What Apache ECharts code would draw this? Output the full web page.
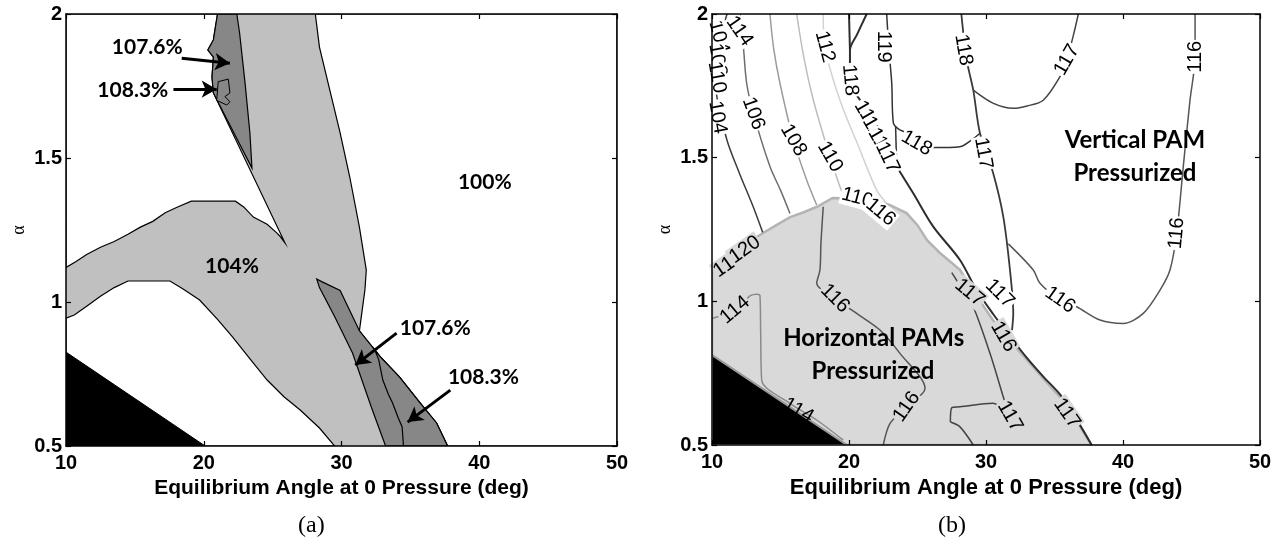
<!DOCTYPE html>
<html>
<head>
<meta charset="utf-8">
<script src="https://cdn.jsdelivr.net/npm/echarts@6/dist/echarts.min.js"></script>
<style>
  html, body { margin: 0; padding: 0; background: #fff; }
  #chart { width: 1281px; height: 540px; }
</style>
</head>
<body>
<div id="chart"></div>
<script>
// axes
var xTicks = [10, 20, 30, 40, 50];
var yTicks = [0.5, 1, 1.5, 2];

// ---------- panel (a): regions as [angle, alpha] ----------
var aUpperWhite = [[10,2],[21.0,2],[20.7,1.91],[20.3,1.875],[20.7,1.85],[20.6,1.78],[20.7,1.726],[25.9,1.205],[25.5,1.23],
  [25.3,1.24],[24.6,1.27],[23.6,1.295],[22.9,1.33],[22.3,1.35],[19.1,1.35],[18.1,1.33],[17.2,1.31],[16.3,1.28],[15.4,1.26],
  [14.5,1.235],[13.5,1.21],[12.5,1.19],[11.5,1.165],[10.7,1.14],[10,1.12]];
var aLowerWhite = [[10,0.5],[10,0.944],[10.6,0.955],[11.5,0.985],[12.5,1.02],[13.5,1.05],[14.5,1.073],[17.55,1.073],
  [18.5,1.045],[19.7,1.007],[21,0.94],[22.1,0.878],[23.4,0.8],[24.6,0.729],[25.8,0.672],[27.0,0.625],[28.4,0.5625],[29.5,0.5]];
var aRightWhite = [[28.1,2],[50,2],[50,0.5],[37.7,0.5],[36.9,0.58],[35.7,0.65],[34.2,0.74],[32.8,0.81],[31.3,0.9],
  [31.7,1.042],[31.8,1.111],[31.3,1.26],[30.6,1.434],[29.9,1.587],[29.2,1.726],[28.4,1.885]];
var aBandTop = [[21.0,2],[22.4,2],[22.6,1.935],[23.0,1.76],[23.35,1.587],[23.5,1.465],[20.7,1.726],[20.6,1.78],
  [20.7,1.85],[20.3,1.875],[20.7,1.91]];
var aBandTop83 = [[21.05,1.765],[21.78,1.774],[21.9,1.726],[21.54,1.713],[21.9,1.695],[21.67,1.684],[20.94,1.7]];
var aBandLow = [[28.2,1.08],[28.6,1.07],[29.9,1.04],[31.3,0.9],[32.8,0.81],[34.2,0.74],[35.7,0.65],[36.9,0.58],[37.7,0.5],
  [33.2,0.5],[32.2,0.63],[30.8,0.823],[29.5,0.95],[28.4,1.05]];
var aBandLow83 = [[32.4,0.835],[32.7,0.8],[33.0,0.729],[33.4,0.68],[33.7,0.65],[34.1,0.6],[34.4,0.566],[34.5,0.5],
  [37.7,0.5],[36.9,0.58],[35.7,0.65],[34.2,0.74],[32.8,0.81]];
var aBlack = [[10,0.5],[10,0.826],[20.1,0.5]];

var aText = [[15.9,1.885,'107.6%'],[14.85,1.736,'108.3%'],[40.4,1.417,'100%'],[22.05,1.125,'104%'],
  [36.8,0.91,'107.6%'],[40.3,0.74,'108.3%']];
var aArrows = [[[18.4,1.846],[21.9,1.829]], [[17.8,1.739],[20.94,1.739]], [[34.0,0.892],[31.0,0.781]], [[37.9,0.694],[34.8,0.583]]];

// ---------- panel (b) ----------
var bGray = [[10,1.12],[11.0,1.15],[12.0,1.18],[12.8,1.21],[13.7,1.237],[14.7,1.265],[15.7,1.293],[16.7,1.31],[17.7,1.33],
  [18.8,1.36],[21.75,1.355],[23.0,1.335],[24.2,1.307],[25.0,1.265],[25.7,1.213],[26.6,1.17],[28.1,1.11],[29.3,1.02],
  [30.5,0.935],[31.8,0.86],[33.0,0.796],[34.2,0.73],[35.4,0.667],[36.6,0.585],[37.7,0.5],[10,0.5]];
var bBlack = [[10,0.5],[10,0.813],[19.85,0.5]];

var c104 = [[11.1,2.0],[10.2,1.815],[10.36,1.711],[11.1,1.56],[12.0,1.446],[13.0,1.33],[13.7,1.24]];
var c106 = [[12.04,2.0],[12.3,1.88],[12.53,1.759],[13.02,1.654],[14.23,1.469],[15.0,1.387],[15.69,1.306]];
var c108 = [[14.23,2.0],[14.5,1.88],[14.96,1.759],[15.94,1.561],[16.91,1.422],[17.64,1.335]];
var c110 = [[16.18,2.0],[16.7,1.85],[17.4,1.7],[18.61,1.503],[19.34,1.399],[19.7,1.36]];
var c112 = [[18.12,2.0],[18.24,1.886],[19.34,1.7],[20.8,1.527],[22.02,1.387],[22.75,1.341]];
var c118 = [[21.29,2.0],[20.6,1.93],[20.07,1.875],[20.07,1.77],[21.29,1.666],[22.26,1.561],[23.48,1.469],[24.69,1.376],
  [26.15,1.26],[28.1,1.144],[29.3,1.04],[30.53,0.955],[31.8,0.875],[32.97,0.804],[34.2,0.737],[35.4,0.676],[36.6,0.59],[37.71,0.5]];
var c118b = [[20.0,2.0],[20.07,1.875]];
var c119 = [[22.75,2.0],[22.9,1.886],[23.12,1.759],[23.24,1.62],[23.6,1.6],[24.21,1.585],[24.94,1.55],[26.15,1.535],
  [28.1,1.538],[28.9,1.56],[29.56,1.585]];
var c119v = [[23.4,1.61],[23.48,1.469]];
var c118r = [[28.2,2.0],[28.59,1.84],[29.07,1.735],[29.56,1.585],[30.53,1.445],[31.26,1.295],[31.75,1.109],[31.99,0.958],[31.9,0.9]];
var c117top = [[29.07,1.735],[30.5,1.69],[31.99,1.672],[33.0,1.68],[34.18,1.7],[35.4,1.782],[35.89,1.84],[36.4,1.93],[36.74,2.0]];
var c116right = [[45.26,2.0],[45.26,1.851],[44.89,1.7],[44.4,1.469],[43.92,1.237],[43.43,1.109],[42.7,1.039],[41.48,0.958],
  [40.02,0.923],[38.32,0.935],[36.62,0.981],[35.4,1.005],[33.94,1.063],[33.45,1.109],[31.63,1.2]];
var c116gray = [[18.12,1.329],[17.95,1.2],[17.88,1.109],[17.64,1.063],[18.98,1.01],[20.56,0.958],[22.26,0.9],[23.72,0.819],
  [25.55,0.697],[24.21,0.633],[23.0,0.575],[22.5,0.5]];
var c114gray = [[10,0.94],[11.68,0.97],[12.8,1.02],[13.26,1.025],[13.5,1.02],[13.55,0.9],[13.63,0.726],[15.69,0.645],
  [17.64,0.587],[19.58,0.517]];
var c117gray = [[27.5,1.1],[28.3,1.04],[29.07,0.981],[30.29,0.819],[31.26,0.668],[31.7,0.6]];
var c117loop = [[27.4,0.58],[27.5,0.63],[28.1,0.633],[30.5,0.645],[31.3,0.62],[31.6,0.59]];
var c117low = [[27.4,0.58],[28.1,0.563],[29.07,0.5]];

var bLabelsWhite = [[10.4,1.64,'104'],[13.02,1.654,'106'],[15.94,1.561,'108'],[18.61,1.503,'110'],[18.24,1.886,'112'],
  [20.07,1.77,'118'],[22.5,1.886,'119'],[24.94,1.55,'118'],[21.3,1.645,'119'],[21.9,1.59,'114'],[22.3,1.55,'116'],
  [22.8,1.5,'117'],[28.35,1.875,'118'],[35.9,1.84,'117'],[29.8,1.515,'117'],[45.26,1.851,'116'],[43.92,1.237,'116'],
  [35.4,1.005,'116'],[31.0,1.027,'117'],[10.5,1.92,'104'],[10.4,1.84,'108'],[12.0,1.94,'114'],[10.35,1.78,'110'],
  [20.6,1.36,'110'],[22.3,1.31,'116']];
var bAnglesWhite = [-80,-70,-60,-60,-75,-85,-90,-30,-60,-60,-60,-65,-80,60,-80,90,85,-35,-45,-75,-80,-55,-80,-15,-40];
var bLabelsGray = [[28.8,1.03,'117'],[31.26,0.877,'116'],[35.9,0.61,'117'],[31.75,0.6,'117'],[18.98,1.01,'116'],
  [24.21,0.633,'116'],[11.68,0.97,'114'],[11.2,1.13,'112'],[11.8,1.15,'110'],[12.4,1.18,'120']];
var bAnglesGray = [-40,-60,-55,-60,-45,55,40,35,35,35];
var bLabelsEdge = [[16.3,0.62,'114']];
var bAnglesEdge = [-30];
var bText = [[40.87,1.561,'Vertical PAM'],[40.87,1.445,'Pressurized'],[21.8,0.872,'Horizontal PAMs'],[21.75,0.755,'Pressurized']];

var xTitle = 'Equilibrium Angle at 0 Pressure (deg)';

// ---------- helpers ----------
function region(idx, data, fill, stroke, lw, z) {
  return {
    type: 'custom', xAxisIndex: idx, yAxisIndex: idx, z: z, silent: true, clip: true,
    data: data,
    renderItem: function (params, api) {
      if (params.dataIndex !== 0) return null;
      var pts = data.map(function (d) { return api.coord(d); });
      return { type: 'polygon', shape: { points: pts },
        style: { fill: fill, stroke: stroke, lineWidth: lw } };
    }
  };
}
function contour(idx, data, color, width) {
  return { type: 'line', xAxisIndex: idx, yAxisIndex: idx, data: data, showSymbol: false, symbol: 'none',
    smooth: 0.3, z: 4, silent: true, lineStyle: { color: color, width: width || 1.5 } };
}
function texts(idx, items, angles, style) {
  return { type: 'scatter', xAxisIndex: idx, yAxisIndex: idx, symbolSize: 0, z: 6, silent: true,
    itemStyle: { opacity: 1 },
    data: items.map(function (d, i) {
      return { value: [d[0], d[1]], name: d[2], label: { rotate: angles ? angles[i] : 0 } };
    }),
    label: Object.assign({ show: true, position: 'inside', formatter: '{b}', color: '#000', opacity: 1 }, style) };
}
function xAx(g, pos, labels) {
  return { type: 'value', gridIndex: g, position: pos, min: xTicks[0], max: xTicks[xTicks.length - 1],
    interval: xTicks[1] - xTicks[0], z: 10,
    name: labels ? xTitle : '', nameLocation: 'middle', nameGap: 30,
    nameTextStyle: { fontFamily: 'Liberation Sans', fontWeight: 'bold', fontSize: g ? 22 : 21, color: '#000' },
    axisLine: { show: true, onZero: false, lineStyle: { color: '#000', width: 1.5 } },
    axisTick: { show: true, inside: true, length: 5, lineStyle: { color: '#000', width: 1.2 } },
    axisLabel: { show: labels, margin: 7, fontFamily: 'Liberation Sans', fontWeight: 'bold', fontSize: 20, color: '#000' },
    splitLine: { show: false } };
}
function yAx(g, pos, labels) {
  return { type: 'value', gridIndex: g, position: pos, min: yTicks[0], max: yTicks[yTicks.length - 1],
    interval: yTicks[1] - yTicks[0], z: 10,
    name: labels ? 'α' : '', nameLocation: 'middle', nameGap: 38,
    nameTextStyle: { fontFamily: 'Liberation Serif', fontSize: 18, color: '#000' },
    axisLine: { show: true, onZero: false, lineStyle: { color: '#000', width: 1.5 } },
    axisTick: { show: true, inside: true, length: 5, lineStyle: { color: '#000', width: 1.2 } },
    axisLabel: { show: labels, margin: 4, fontFamily: 'Liberation Sans', fontWeight: 'bold', fontSize: 20, color: '#000' },
    splitLine: { show: false } };
}

var chart = echarts.init(document.getElementById('chart'));
var bigBold = { fontFamily: 'Lato', fontWeight: 'bold', fontSize: 21 };
var aLabelSeries = texts(0, aText, null, bigBold);
aLabelSeries.markLine = {
  silent: true, symbol: ['none', 'arrow'], symbolSize: [13, 15], animation: false,
  lineStyle: { color: '#000', width: 3, type: 'solid', opacity: 1 }, label: { show: false },
  data: aArrows.map(function (a) { return [{ coord: a[0] }, { coord: a[1] }]; })
};

var lbl = { fontFamily: 'Liberation Sans', fontSize: 20, padding: [0, 1] };

chart.setOption({
  animation: false,
  title: [
    { text: '(a)', left: 298, top: 514, padding: 0,
      textStyle: { fontFamily: 'Liberation Serif', fontSize: 24, fontWeight: 'normal', color: '#000' } },
    { text: '(b)', left: 938, top: 514, padding: 0,
      textStyle: { fontFamily: 'Liberation Serif', fontSize: 24, fontWeight: 'normal', color: '#000' } }
  ],
  grid: [
    { left: 66, top: 14, width: 551, height: 432 },
    { left: 712, top: 14, width: 548, height: 431 }
  ],
  xAxis: [xAx(0, 'bottom', true), xAx(1, 'bottom', true), xAx(0, 'top', false), xAx(1, 'top', false)],
  yAxis: [yAx(0, 'left', true), yAx(1, 'left', true), yAx(0, 'right', false), yAx(1, 'right', false)],
  series: [
    // panel (a)
    region(0, [[10,0.5],[50,0.5],[50,2],[10,2]], '#c0c0c0', 'none', 0, 1),
    region(0, aUpperWhite, '#fff', '#000', 1.2, 2),
    region(0, aLowerWhite, '#fff', '#000', 1.2, 2),
    region(0, aRightWhite, '#fff', '#000', 1.2, 2),
    region(0, aBandTop, '#878787', '#000', 1.2, 3),
    region(0, aBandTop83, '#878787', '#000', 1, 3),
    region(0, aBandLow, '#878787', '#000', 1.2, 3),
    region(0, aBandLow83, '#878787', '#000', 1.2, 3),
    region(0, aBlack, '#000', '#000', 1, 3),
    aLabelSeries,
    // panel (b)
    region(1, bGray, '#d9d9d9', '#b4b4b4', 2.5, 1),
    region(1, bBlack, '#000', '#9a9a9a', 2, 5),
    contour(1, c104, '#3c3c3c'),
    contour(1, c106, '#6e6e6e'),
    contour(1, c108, '#9c9c9c'),
    contour(1, c110, '#bdbdbd'),
    contour(1, c112, '#d2d2d2'),
    contour(1, c118, '#2e2e2e', 2),
    contour(1, c118b, '#2e2e2e', 2),
    contour(1, c119, '#333'),
    contour(1, c119v, '#333'),
    contour(1, c118r, '#3a3a3a', 1.8),
    contour(1, c117top, '#444'),
    contour(1, c116right, '#555'),
    contour(1, c116gray, '#555'),
    contour(1, c114gray, '#8a8a8a'),
    contour(1, c117gray, '#444'),
    contour(1, c117loop, '#444'),
    contour(1, c117low, '#444'),
    texts(1, bLabelsWhite, bAnglesWhite, Object.assign({ backgroundColor: '#fff' }, lbl)),
    texts(1, bLabelsGray, bAnglesGray, Object.assign({ backgroundColor: '#d9d9d9' }, lbl)),
    texts(1, bLabelsEdge, bAnglesEdge, lbl),
    texts(1, bText, null, { fontFamily: 'Lato', fontWeight: 'bold', fontSize: 24 })
  ]
});
</script>
</body>
</html>
